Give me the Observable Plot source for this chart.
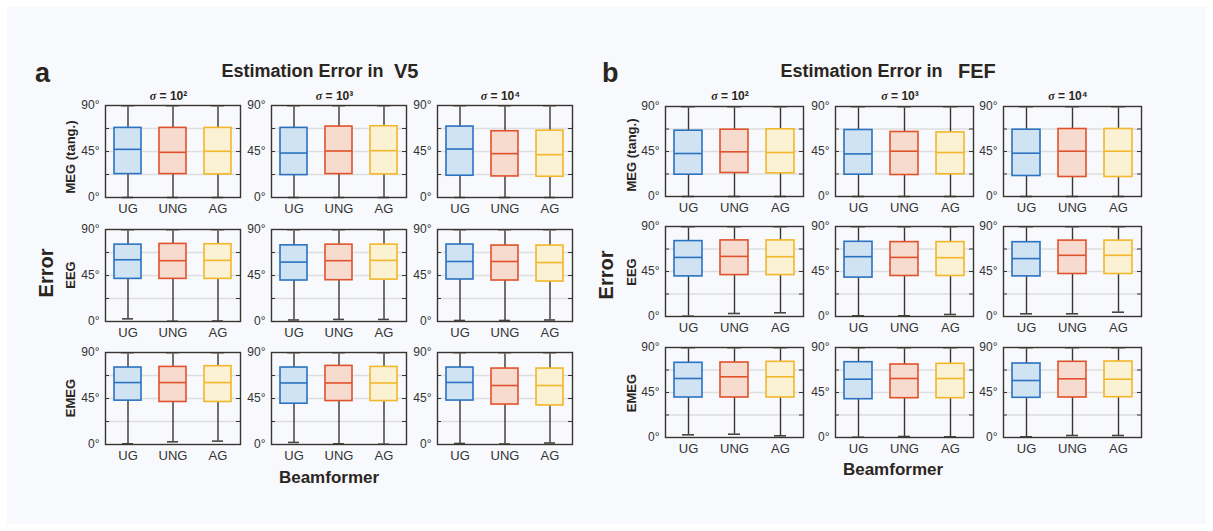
<!DOCTYPE html>
<html><head><meta charset="utf-8">
<script src="https://cdn.jsdelivr.net/npm/d3@7"></script>
<script src="https://cdn.jsdelivr.net/npm/@observablehq/plot@0.6"></script>
<style>
html,body{margin:0;padding:0;background:#fff;}
#wrap{position:relative;width:1213px;height:531px;overflow:hidden;font-family:"Liberation Sans",Arial,sans-serif;}
#bg{position:absolute;left:7px;top:7px;width:1199px;height:517px;background:#f7f9fc;}
.cell{position:absolute;}
#overlay{position:absolute;left:0;top:0;}
</style></head><body><div id="wrap"><div id="bg"></div></div>
<script>
// ---- data ----
const regions = ["V5", "FEF"];
const panelLetters = ["a", "b"];
const beamformers = ["UG", "UNG", "AG"];
const sigmaLabels = ["10²", "10³", "10⁴"];
const modalities = ["MEG (tang.)", "EEG", "EMEG"];
const yTicks = [0, 45, 90];
const yMinorTicks = [22.5, 45, 67.5];

// [modality][sigma][beamformer]
const v5Q1 = [
  [[22.9, 22.9, 22.6], [21.9, 22.9, 22.6], [21.3, 20.6, 20.3]],
  [[41.7, 41.7, 41.7], [40.1, 40.4, 41.0], [41.1, 40.1, 39.1]],
  [[42.9, 41.6, 41.6], [39.9, 42.5, 42.5], [43.0, 39.1, 38.2]]
];
const v5Median = [
  [[47.1, 44.2, 45.2], [43.5, 45.5, 45.8], [47.4, 42.9, 41.9]],
  [[60.4, 59.5, 59.8], [58.1, 59.5, 59.8], [58.7, 58.7, 57.7]],
  [[60.6, 60.6, 60.6], [60.2, 60.2, 60.2], [60.7, 57.7, 57.7]]
];
const v5Q3 = [
  [[68.1, 68.1, 68.1], [68.1, 69.4, 69.7], [69.4, 64.8, 65.4]],
  [[75.2, 75.9, 75.6], [74.5, 75.2, 75.2], [75.3, 74.3, 74.3]],
  [[75.3, 75.9, 76.6], [75.3, 76.9, 75.9], [75.3, 74.3, 74.3]]
];
const v5Min = [
  [[0, 0, 0], [0, 0, 0], [0, 0, 0]],
  [[2.6, 0.3, 0.5], [1.5, 2.0, 2.0], [1.0, 1.0, 1.5]],
  [[0.7, 2.6, 3.3], [2.0, 0.7, 0.3], [1.0, 0.5, 1.5]]
];
const v5Max = [
  [[89.6, 89.6, 89.6], [89.6, 89.6, 89.6], [89.6, 89.6, 89.6]],
  [[89.6, 89.6, 89.6], [89.6, 89.6, 89.6], [89.6, 89.6, 89.6]],
  [[89.6, 89.6, 89.6], [89.6, 89.6, 89.6], [89.6, 89.6, 89.6]]
];

const fefQ1 = [
  [[21.8, 23.5, 23.2], [21.8, 21.5, 22.2], [20.5, 19.5, 19.5]],
  [[40.1, 41.4, 41.4], [38.9, 40.5, 40.5], [40.1, 42.5, 42.5]],
  [[40.0, 40.0, 40.0], [38.3, 39.3, 39.3], [39.7, 40.0, 40.3]]
];
const fefMedian = [
  [[43.0, 44.7, 44.0], [42.6, 45.3, 44.0], [43.3, 45.3, 45.3]],
  [[59.1, 60.1, 59.8], [59.8, 59.1, 58.8], [57.9, 61.2, 61.2]],
  [[59.0, 60.7, 60.7], [58.3, 59.0, 59.0], [57.0, 58.7, 58.3]]
];
const fefQ3 = [
  [[65.8, 66.8, 67.2], [66.5, 64.5, 64.1], [66.8, 67.5, 67.5]],
  [[75.4, 76.1, 76.1], [74.7, 74.4, 74.4], [74.3, 75.9, 75.9]],
  [[74.7, 75.0, 75.7], [75.3, 73.0, 73.7], [74.0, 75.7, 76.0]]
];
const fefMin = [
  [[0, 0, 0], [0, 0, 0], [0, 0, 0]],
  [[0.3, 3.0, 3.7], [0.7, 0.7, 2.0], [2.7, 2.7, 4.3]],
  [[2.7, 3.3, 1.7], [0.3, 1.0, 0.7], [0.7, 2.0, 2.0]]
];
const fefMax = v5Max;

const stats = {
  V5: {q1: v5Q1, med: v5Median, q3: v5Q3, lo: v5Min, hi: v5Max},
  FEF: {q1: fefQ1, med: fefMedian, q3: fefQ3, lo: fefMin, hi: fefMax}
};

// ---- styles & layout ----
const boxFill = {UG: "#cfe3f3", UNG: "#f7dbcf", AG: "#fbf1d3"};
const boxStroke = {UG: "#2b72c0", UNG: "#e0522b", AG: "#f2b72a"};
const ink = "#2b2522";
const font = "'Liberation Sans', Arial, sans-serif";
const layout = [
  {left: [105, 271, 437], top: [105, 229, 352], fw: 135, fh: 92},
  {left: [665, 835, 1003], top: [106, 226, 347], fw: 138, fh: 90}
];
const ML = 34, MR = 6, MT = 8, MB = 26;

const wrap = document.getElementById("wrap");

function cell(ri, mi, si) {
  const s = stats[regions[ri]];
  const {fw, fh} = layout[ri];
  const data = beamformers.map((b, bi) => ({
    b, q1: s.q1[mi][si][bi], med: s.med[mi][si][bi], q3: s.q3[mi][si][bi],
    lo: s.lo[mi][si][bi], hi: s.hi[mi][si][bi]
  }));
  return Plot.plot({
    width: fw + ML + MR, height: fh + MT + MB,
    marginLeft: ML, marginRight: MR, marginTop: MT, marginBottom: MB,
    style: {background: "transparent", fontFamily: font, color: "#333", overflow: "visible"},
    x: {type: "band", domain: beamformers, paddingInner: 0.4, paddingOuter: 0.2},
    y: {domain: [0, 90]},
    color: {type: "identity"},
    marks: [
      Plot.ruleY(yMinorTicks, {stroke: "#dedede", strokeWidth: 1.3}),
      Plot.ruleX(data, {x: "b", y1: "lo", y2: "hi", stroke: "#3b3532", strokeWidth: 1.4}),
      Plot.tickY(data, {x: "b", y: "lo", stroke: "#4a4542", strokeWidth: 1.6, insetLeft: 8, insetRight: 8}),
      Plot.tickY(data, {x: "b", y: "hi", stroke: "#8d8986", strokeWidth: 1.6, insetLeft: 7, insetRight: 7}),
      Plot.barY(data, {x: "b", y1: "q1", y2: "q3", fill: d => boxFill[d.b], stroke: d => boxStroke[d.b], strokeWidth: 1.6}),
      Plot.tickY(data, {x: "b", y: "med", stroke: d => boxStroke[d.b], strokeWidth: 1.6}),
      Plot.frame({stroke: "#3b3532", strokeWidth: 1.4}),
      Plot.ruleY(yMinorTicks, {insetRight: fw - 4, stroke: "#3b3532", strokeWidth: 1}),
      Plot.ruleY(yMinorTicks, {insetLeft: fw - 4, stroke: "#3b3532", strokeWidth: 1}),
      Plot.axisY({ticks: yTicks, tickFormat: v => v + "°", tickSize: 0, tickPadding: 6, fontSize: 12, label: null, fill: "#333"}),
      Plot.axisX({tickSize: 0, tickPadding: 6, fontSize: 13, label: null, fill: "#333"})
    ]
  });
}

regions.forEach((r, ri) => {
  const L = layout[ri];
  modalities.forEach((m, mi) => {
    sigmaLabels.forEach((sg, si) => {
      const div = document.createElement("div");
      div.className = "cell";
      div.style.left = (L.left[si] - ML) + "px";
      div.style.top = (L.top[mi] - MT) + "px";
      div.appendChild(cell(ri, mi, si));
      wrap.appendChild(div);
    });
  });
});

// ---- text overlay ----
const svg = d3.select(wrap).append("svg").attr("id", "overlay")
  .attr("width", 1213).attr("height", 531)
  .style("font-family", font).style("fill", ink);

const panelText = [
  {letterX: 35, titleX: 221.5, nameX: 394, rowX: 75, errX: 53, errY: 273,
   rowY: [157, 275, 398], beamX: 329, beamY: 483},
  {letterX: 602, titleX: 780.5, nameX: 958, rowX: 636, errX: 613, errY: 275,
   rowY: [155, 272, 393], beamX: 893, beamY: 475}
];

regions.forEach((r, ri) => {
  const P = panelText[ri], L = layout[ri];
  svg.append("text").attr("x", P.letterX).attr("y", 82)
    .attr("font-size", 27).attr("font-weight", "bold").text(panelLetters[ri]);
  svg.append("text").attr("x", P.titleX).attr("y", 77)
    .attr("font-size", 18).attr("font-weight", "bold").text("Estimation Error in");
  svg.append("text").attr("x", P.nameX).attr("y", 78)
    .attr("font-size", 20).attr("font-weight", "bold").text(r);
  sigmaLabels.forEach((sg, si) => {
    const t = svg.append("text").attr("x", L.left[si] + L.fw / 2 - 4).attr("y", 100)
      .attr("text-anchor", "middle").attr("font-size", 12).attr("font-weight", "bold");
    t.append("tspan").attr("font-family", "'Liberation Serif', serif").attr("font-style", "italic").text("σ");
    t.append("tspan").text(" = " + sg);
  });
  modalities.forEach((m, mi) => {
    svg.append("text").attr("transform", `translate(${P.rowX},${P.rowY[mi]}) rotate(-90)`)
      .attr("text-anchor", "middle").attr("font-size", 13).attr("font-weight", "bold").text(m);
  });
  svg.append("text").attr("transform", `translate(${P.errX},${P.errY}) rotate(-90)`)
    .attr("text-anchor", "middle").attr("font-size", 20).attr("font-weight", "bold").text("Error");
  svg.append("text").attr("x", P.beamX).attr("y", P.beamY)
    .attr("text-anchor", "middle").attr("font-size", 17).attr("font-weight", "bold").text("Beamformer");
});
</script>
</body></html>
